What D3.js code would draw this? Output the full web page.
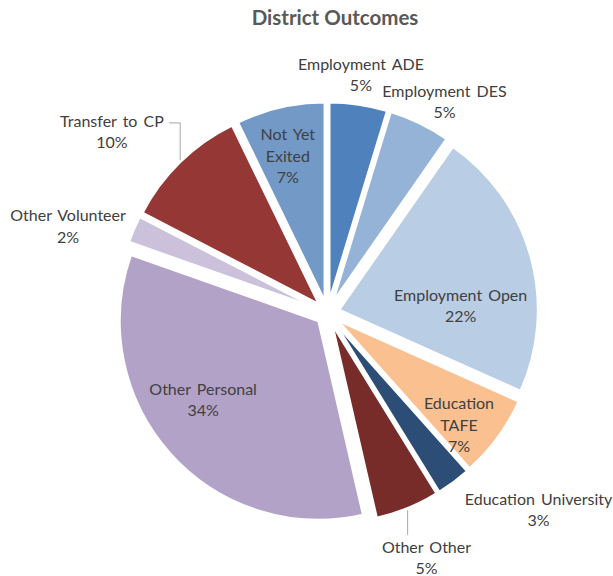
<!DOCTYPE html>
<html>
<head>
<meta charset="utf-8">
<script src="https://cdn.jsdelivr.net/npm/d3@7/dist/d3.min.js"></script>
<style>
  html, body { margin: 0; padding: 0; background: #ffffff; }
  svg { display: block; }
</style>
</head>
<body>
<svg id="chart" width="613" height="576"></svg>
<script>
// ---- data ----
const title = "District Outcomes";
const categories = ["Employment ADE", "Employment DES", "Employment Open", "Education TAFE",
  "Education University", "Other Other", "Other Personal", "Other Volunteer",
  "Transfer to CP", "Not Yet Exited"];
const values = [4.7, 5.0, 22.0, 6.7, 2.8, 5.2, 34.0, 2.2, 10.2, 7.2];
const colors = ["#4F81BD", "#95B3D7", "#B9CDE5", "#FAC090", "#2C4D75",
  "#772C2A", "#B3A2C7", "#CCC1DA", "#953735", "#7399C6"];
// how each label's name wraps
const labelLines = [["Employment ADE"], ["Employment DES"], ["Employment Open"], ["Education", "TAFE"],
  ["Education University"], ["Other Other"], ["Other Personal"], ["Other Volunteer"],
  ["Transfer to CP"], ["Not Yet", "Exited"]];
// label placement: [angle in degrees clockwise from 12 o'clock, distance as fraction of radius]
const labelPlace = [[8, 1.207], [29, 1.212], [87, 0.67], [130.5, 0.869],
  [133, 1.45], [158, 1.328], [235, 0.763], [288.4, 1.374], [310, 1.414], [-14.2, 0.813]];
// leader line style per label: null | "down" | "upleft"
const leaders = [null, null, null, null, null, "down", null, null, "upleft", null];

// ---- layout ----
const svg = d3.select("#chart");
const cx = 327.5, cy = 313, R = 199, explode = 12;
const fontFamily = "Lato, 'Open Sans', sans-serif";
const lineH = 21.5;
const textColor = "#404040";

svg.append("text")
  .attr("x", 335).attr("y", 25)
  .attr("text-anchor", "middle")
  .attr("font-family", fontFamily)
  .attr("font-weight", "bold")
  .attr("font-size", 20.5)
  .attr("fill", "#595959")
  .text(title);

const total = d3.sum(values);
const data = categories.map((c, i) => ({ name: c, value: values[i], i }));
const pie = d3.pie().sort(null).value(d => d.value).startAngle(0).endAngle(2 * Math.PI);
const arcs = pie(data);
const arc = d3.arc().innerRadius(0).outerRadius(R);

const g = svg.append("g").attr("transform", `translate(${cx},${cy})`);

function offsetOf(a) {
  const mid = (a.startAngle + a.endAngle) / 2;
  return [Math.sin(mid) * explode, -Math.cos(mid) * explode];
}

g.selectAll("path.slice")
  .data(arcs)
  .join("path")
  .attr("class", "slice")
  .attr("transform", a => { const o = offsetOf(a); return `translate(${o[0]},${o[1]})`; })
  .attr("d", arc)
  .attr("fill", a => colors[a.data.i])
  .attr("stroke", "#ffffff")
  .attr("stroke-width", 2.5)
  .attr("stroke-linejoin", "round");

// labels
arcs.forEach(a => {
  const i = a.data.i;
  const [deg, frac] = labelPlace[i];
  const ang = deg * Math.PI / 180;
  const lx = Math.sin(ang) * R * frac;
  const ly = -Math.cos(ang) * R * frac;
  const lines = labelLines[i].concat([Math.round(a.data.value / total * 100) + "%"]);
  const n = lines.length;
  const t = g.append("text")
    .attr("text-anchor", "middle")
    .attr("font-family", fontFamily)
    .attr("font-size", 16)
    .attr("fill", textColor)
    .style("word-spacing", "2px");
  lines.forEach((ln, k) => {
    t.append("tspan")
      .attr("x", lx)
      .attr("y", ly + (k - (n - 1) / 2) * lineH + 5.5)
      .text(ln);
  });

  if (leaders[i]) {
    const mid = (a.startAngle + a.endAngle) / 2;
    const o = offsetOf(a);
    const ex = o[0] + Math.sin(mid) * R;
    const ey = o[1] - Math.cos(mid) * R;
    const bb = t.node().getBBox();
    let pts;
    if (leaders[i] === "down") {
      pts = [[ex, ey + 2], [ex, bb.y - 2]];
    } else {
      const hy = bb.y + 12;
      pts = [[ex, ey - 2], [ex, hy], [bb.x + bb.width + 5, hy]];
    }
    g.append("path")
      .attr("d", d3.line()(pts))
      .attr("fill", "none")
      .attr("stroke", "#A6A6A6")
      .attr("stroke-width", 1);
  }
});
</script>
</body>
</html>
